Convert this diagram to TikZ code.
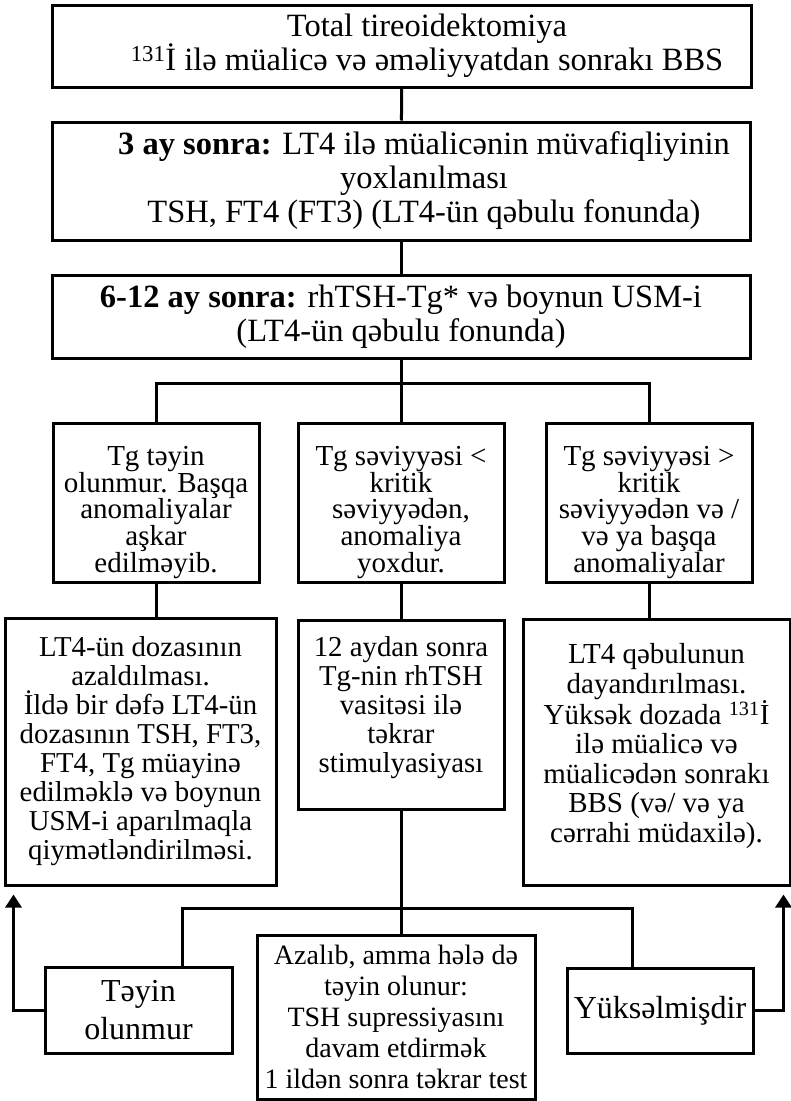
\documentclass[tikz,border=0pt]{standalone}
\usepackage{fontspec}
\setmainfont{Liberation Serif}
\usetikzlibrary{arrows.meta}
\tikzset{
  box/.style={draw, line width=3pt, align=center, inner sep=0pt},
  big/.style={font=\fontsize{32.5}{34}\selectfont},
  row/.style={align=center, inner sep=0pt, font=\fontsize{29}{26.7}\selectfont},
  low/.style={align=center, inner sep=0pt, font=\fontsize{28.8}{29}\selectfont},
  foot/.style={font=\fontsize{32}{38}\selectfont},
  back/.style={-{Triangle[width=16pt,length=13pt]}, shorten >=8pt}
}
\begin{document}
\begin{tikzpicture}[x=1pt, y=-1pt, line width=3pt]
  \useasboundingbox (0,0) rectangle (791,1101);
  \node[box, big, minimum width=699pt, minimum height=82pt] (total) at (402,46)
    {\hspace*{50pt}Total tireoidektomiya\\ \hspace*{50pt}\textsuperscript{131}İ ilə müalicə və əməliyyatdan sonrakı BBS};
  \node[box, big, minimum width=698pt, minimum height=118pt] (three) at (401,181)
    {\hspace*{46pt}\textbf{3 ay sonra:} LT4 ilə müalicənin müvafiqliyinin\\ \hspace*{46pt}yoxlanılması\\ \hspace*{46pt}TSH, FT4 (FT3) (LT4-ün qəbulu fonunda)};
  \node[box, big, minimum width=698pt, minimum height=83pt] (six) at (401,316.5)
    {\textbf{6-12 ay sonra:} rhTSH-Tg* və boynun USM-i\\ (LT4-ün qəbulu fonunda)};

  \node[box, minimum width=206pt, minimum height=159pt] (none) at (156,502.5) {};
  \node[box, minimum width=206pt, minimum height=159pt] (below) at (401,502.5) {};
  \node[box, minimum width=206pt, minimum height=159pt] (above) at (649,502.5) {};
  \node[row] (none text) at ([yshift=-10pt]none)
    {Tg təyin\\ olunmur. Başqa\\ anomaliyalar\\ aşkar\\ edilməyib.};
  \node[row] (below text) at ([yshift=-10pt]below)
    {Tg səviyyəsi <\\ kritik\\ səviyyədən,\\ anomaliya\\ yoxdur.};
  \node[row] (above text) at ([yshift=-10pt]above)
    {Tg səviyyəsi >\\ kritik\\ səviyyədən və /\\ və ya başqa\\ anomaliyalar};

  \node[box, low, minimum width=271pt, minimum height=267pt] (dose) at (140.5,751.5)
    {LT4-ün dozasının\\ azaldılması.\\ İldə bir dəfə LT4-ün\\ dozasının TSH, FT3,\\ FT4, Tg müayinə\\ edilməklə və boynun\\ USM-i aparılmaqla\\ qiymətləndirilməsi.};
  \node[box, minimum width=206pt, minimum height=189pt] (stim) at (401,714.5) {};
  \node[box, minimum width=267pt, minimum height=266pt] (stop) at (656.5,752) {};
  \node[low] (stim text) at ([yshift=7pt]stim)
    {12 aydan sonra\\ Tg-nin rhTSH\\ vasitəsi ilə\\ təkrar\\ stimulyasiyası};
  \node[low, font=\fontsize{29}{29.5}\selectfont] (stop text) at ([yshift=6pt]stop)
    {LT4 qəbulunun\\ dayandırılması.\\ Yüksək dozada \textsuperscript{131}İ\\ ilə müalicə və\\ müalicədən sonrakı\\ BBS (və/ və ya\\ cərrahi müdaxilə).};

  \node[box, foot, minimum width=187pt, minimum height=86pt] (undet) at (138.5,1010)
    {Təyin\\ olunmur};
  \node[box, font=\fontsize{28}{31}\selectfont, minimum width=278pt, minimum height=164pt] (still) at (396,1017)
    {Azalıb, amma hələ də\\ təyin olunur:\\ TSH supressiyasını\\ davam etdirmək\\ 1 ildən sonra təkrar test};
  \node[box, foot, minimum width=186pt, minimum height=85pt] (rise) at (660,1010.5)
    {Yüksəlmişdir};

  \coordinate (split) at (401,383);
  \coordinate (join) at (401,908);

  \draw (total) -- (three);
  \draw (three) -- (six);
  \draw (six) -- (split);
  \draw (none.north) |- (split) -| (above.north);
  \draw (split) -- (below.north);
  \draw (none.south) -- (none.south |- dose.north);
  \draw (below) -- (stim);
  \draw (above.south) -- (above.south |- stop.north);
  \draw (stim) -- (join);
  \draw (join) -- (join |- still.north);
  \draw ([xshift=43.5pt]undet.north) |- (join) -| ([xshift=-28pt]rise.north);
  \draw[back] (undet.west) -| ([xshift=10pt]dose.south west);
  \draw[back] (rise.east) -| ([xshift=-8pt]stop.south east);
\end{tikzpicture}
\end{document}
